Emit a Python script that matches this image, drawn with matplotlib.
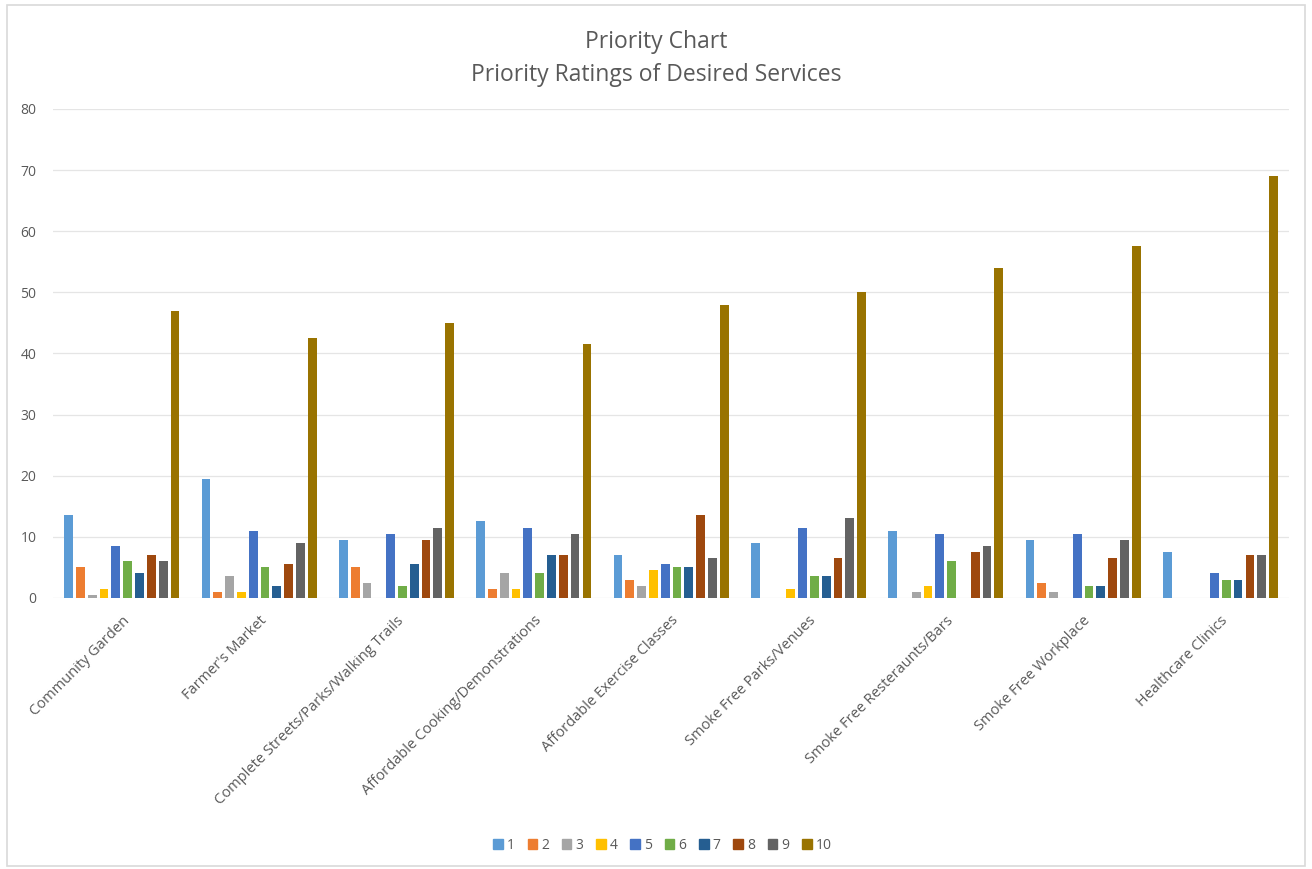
import matplotlib.pyplot as plt
import matplotlib.patches as mpatches
import numpy as np

plt.rcParams['font.family'] = ['Open Sans', 'DejaVu Sans']

services = ['Community Garden', "Farmer's Market", 'Complete Streets/Parks/Walking Trails',
            'Affordable Cooking/Demonstrations', 'Affordable Exercise Classes',
            'Smoke Free Parks/Venues', 'Smoke Free Resteraunts/Bars',
            'Smoke Free Workplace', 'Healthcare Clinics']
ratings = ['1', '2', '3', '4', '5', '6', '7', '8', '9', '10']

# one list per priority rating, in the order of the services above
r1 = [13.5, 19.5, 9.5, 12.5, 7, 9, 11, 9.5, 7.5]
r2 = [5, 1, 5, 1.5, 3, 0, 0, 2.5, 0]
r3 = [0.5, 3.5, 2.5, 4, 2, 0, 1, 1, 0]
r4 = [1.5, 1, 0, 1.5, 4.5, 1.5, 2, 0, 0]
r5 = [8.5, 11, 10.5, 11.5, 5.5, 11.5, 10.5, 10.5, 4]
r6 = [6, 5, 2, 4, 5, 3.5, 6, 2, 3]
r7 = [4, 2, 5.5, 7, 5, 3.5, 0, 2, 3]
r8 = [7, 5.5, 9.5, 7, 13.5, 6.5, 7.5, 6.5, 7]
r9 = [6, 9, 11.5, 10.5, 6.5, 13, 8.5, 9.5, 7]
r10 = [47, 42.5, 45, 41.5, 48, 50, 54, 57.5, 69]
series = [r1, r2, r3, r4, r5, r6, r7, r8, r9, r10]

colors = ['#5B9BD5', '#ED7D31', '#A5A5A5', '#FFC000', '#4472C4',
          '#70AD47', '#255E91', '#9E480E', '#636363', '#997300']

txt = '#595959'
fig = plt.figure(figsize=(13.12, 8.69), dpi=100)
fig.patches.append(mpatches.Rectangle((0.005, 0.004), 0.99, 0.99, transform=fig.transFigure,
                                      fill=False, edgecolor='#D9D9D9', lw=1.2))
ax = fig.add_axes([0.0405, 0.312, 0.942, 0.5626])

x = np.arange(len(services))
pitch = 0.086
width = 0.064
for i, (vals, c) in enumerate(zip(series, colors)):
    ax.bar(x + (i - 4.5) * pitch, vals, width=width, color=c, label=ratings[i], zorder=3)

ax.set_xlim(-0.5, len(services) - 0.5)
ax.set_ylim(0, 80)
ax.set_yticks(range(0, 81, 10))
ax.grid(axis='y', color='#E5E5E5', lw=0.9, zorder=0)
for s in ax.spines.values():
    s.set_visible(False)
ax.tick_params(axis='both', length=0, colors=txt, labelsize=10)
ax.tick_params(axis='y', pad=12)
ax.set_xticks(x)
ax.set_xticklabels(services, rotation=45, ha='right', va='top', rotation_mode='anchor',
                   fontsize=10.5, color=txt)
ax.tick_params(axis='x', pad=11)

fig.text(0.5, 0.966, 'Priority Chart\nPriority Ratings of Desired Services', ha='center', va='top',
         fontsize=16.5, color=txt, linespacing=1.5)

handles = [mpatches.Patch(color=c) for c in colors]
fig.legend(handles, ratings, loc='center', bbox_to_anchor=(0.505, 0.027), ncol=10, frameon=False,
           handlelength=0.7, handleheight=0.7, handletextpad=0.3, columnspacing=0.9,
           fontsize=10, labelcolor=txt)

fig.savefig('out.png', dpi=100, facecolor='white')
